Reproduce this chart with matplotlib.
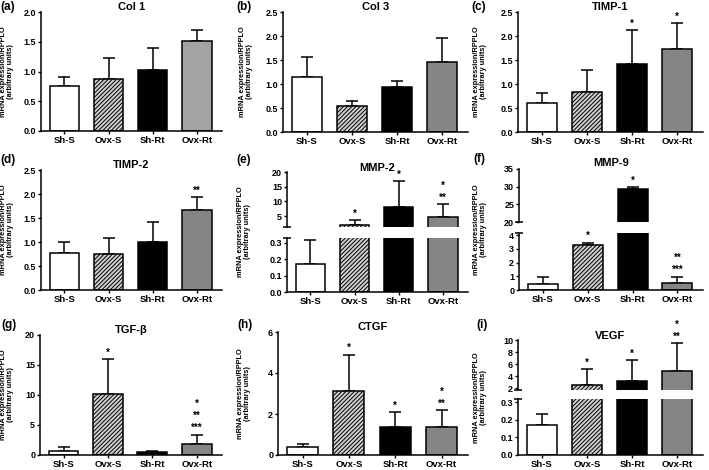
import numpy as np
import matplotlib
matplotlib.use('Agg')
import matplotlib.pyplot as plt

plt.rcParams['font.family'] = ['Liberation Sans', 'DejaVu Sans']
plt.rcParams['font.weight'] = 'bold'
plt.rcParams['hatch.linewidth'] = 0.7

# groups on the x axis
groups = ['Sh-S', 'Ovx-S', 'Sh-Rt', 'Ovx-Rt']

# means and upper SD for each panel
col1_mean = [0.75, 0.87, 1.03, 1.51]
col1_err = [0.15, 0.35, 0.36, 0.19]
col3_mean = [1.14, 0.55, 0.94, 1.46]
col3_err = [0.42, 0.09, 0.12, 0.49]
timp1_mean = [0.61, 0.83, 1.41, 1.72]
timp1_err = [0.21, 0.47, 0.72, 0.55]
timp2_mean = [0.78, 0.76, 1.01, 1.66]
timp2_err = [0.21, 0.33, 0.40, 0.27]
mmp2_mean = [0.17, 1.8, 8.0, 4.5]
mmp2_err = [0.15, 1.7, 8.8, 4.6]
mmp9_mean = [0.45, 3.25, 29.4, 0.5]
mmp9_err = [0.47, 0.2, 0.5, 0.47]
tgfb_mean = [0.7, 10.2, 0.5, 1.9]
tgfb_err = [0.6, 5.8, 0.2, 1.5]
ctgf_mean = [0.4, 3.1, 1.37, 1.35]
ctgf_err = [0.15, 1.8, 0.73, 0.85]
vegf_mean = [0.17, 2.5, 3.1, 4.8]
vegf_err = [0.06, 2.7, 3.5, 4.7]

# significance marks
timp1_sig = ['', '', '*', '*']
timp2_sig = ['', '', '', '**']
mmp2_sig = ['', '*', '*', '*\n**']
mmp9_sig = ['', '*', '*', '**\n***']
tgfb_sig = ['', '*', '', '*\n**\n***']
ctgf_sig = ['', '*', '*', '*\n**']
vegf_sig = ['', '*', '*', '*\n**']

W, H = 709, 470
fig = plt.figure(figsize=(W / 100, H / 100), dpi=100)

faces = ['white', '#d0d0d0', 'black', '#858585']
hatches = ['', '////////', '', '']
x = np.arange(len(groups))


def px_axes(l, t, r, b):
    return fig.add_axes([l / W, 1 - b / H, (r - l) / W, (b - t) / H])


def style(ax, bottom=True, top_cap=False, bottom_cap=False):
    ax.spines['top'].set_visible(False)
    ax.spines['right'].set_visible(False)
    ax.spines['left'].set_linewidth(1.1)
    ax.spines['bottom'].set_linewidth(1.1)
    ax.tick_params(direction='out', length=2.5, width=1, labelsize=6.5, pad=1)
    ax.set_xlim(-0.53, 3.57)
    if bottom:
        ax.set_xticks(x)
        ax.set_xticklabels(groups, fontsize=6.8, fontweight='bold')
    else:
        ax.spines['bottom'].set_visible(False)
        ax.set_xticks([])
    for lab in ax.get_yticklabels():
        lab.set_fontweight('bold')
    if top_cap:
        ax.plot([0], [1], marker='_', ms=6, mew=1.1, color='k',
                transform=ax.transAxes, clip_on=False)
    if bottom_cap:
        ax.plot([0], [0], marker='_', ms=6, mew=1.1, color='k',
                transform=ax.transAxes, clip_on=False)


def draw_bars(ax, mean, err, ovx_grey='#858585'):
    cols = faces[:3] + [ovx_grey]
    for i in range(len(groups)):
        ax.bar(x[i], mean[i], width=0.67, color=cols[i], edgecolor='black',
               linewidth=1.1, hatch=hatches[i], zorder=2)
    ax.errorbar(x, mean, yerr=[np.zeros(len(err)), err], fmt='none',
                ecolor='black', elinewidth=1.1, capsize=4.5, capthick=1.1, zorder=1)


def stars(ax, mean, err, sig, only=None):
    for i, s in enumerate(sig):
        if not s or (only is not None and i not in only):
            continue
        ax.annotate(s, xy=(x[i], mean[i] + err[i]), xytext=(0, 1),
                    textcoords='offset points', ha='center', va='bottom',
                    fontsize=7, fontweight='bold', linespacing=1.25,
                    annotation_clip=False)


def labels(l, t, r, b, title, tag, title_y, tag_xy, ylab_off=36):
    fig.text((l + r) / 2 / W, 1 - title_y / H, title, ha='center', va='center',
             fontsize=8, fontweight='bold')
    fig.text(tag_xy[0] / W, 1 - tag_xy[1] / H, tag, ha='left', va='center',
             fontsize=8.5, fontweight='bold')
    fig.text((l - ylab_off) / W, 1 - (t + b) / 2 / H,
             'mRNA expression/RPPLO\n(arbitrary units)', rotation=90,
             ha='center', va='center', fontsize=5.3, fontweight='bold',
             linespacing=1.1)


def simple_panel(box, mean, err, ylim, yticks, title, tag, title_y, tag_xy,
                 sig=None, ovx_grey='#858585', ylab_off=36, fmt='%.1f'):
    ax = px_axes(*box)
    draw_bars(ax, mean, err, ovx_grey)
    ax.set_ylim(*ylim)
    ax.set_yticks(yticks)
    ax.set_yticklabels([fmt % v for v in yticks])
    style(ax)
    if sig:
        stars(ax, mean, err, sig)
    labels(*box, title, tag, title_y, tag_xy, ylab_off)
    return ax


def broken_panel(l, r, up_tb, lo_tb, mean, err, up_lim, lo_lim, up_ticks,
                 lo_ticks, up_fmt, lo_fmt, title, tag, title_y, tag_xy, sig,
                 up_idx, lo_idx, ylab_off=36):
    axu = px_axes(l, up_tb[0], r, up_tb[1])
    axl = px_axes(l, lo_tb[0], r, lo_tb[1])
    for ax in (axu, axl):
        draw_bars(ax, mean, err)
    axu.set_ylim(*up_lim)
    axl.set_ylim(*lo_lim)
    axu.set_yticks(up_ticks)
    axu.set_yticklabels([up_fmt % v for v in up_ticks])
    axl.set_yticks(lo_ticks)
    axl.set_yticklabels([lo_fmt % v for v in lo_ticks])
    style(axu, bottom=False, bottom_cap=True)
    style(axl, top_cap=True)
    stars(axu, mean, err, sig, only=up_idx)
    stars(axl, mean, err, sig, only=lo_idx)
    labels(l, up_tb[0], r, lo_tb[1], title, tag, title_y, tag_xy, ylab_off)


# row 1
simple_panel((41, 12, 222, 131), col1_mean, col1_err, (0, 2.0),
             [0, 0.5, 1.0, 1.5, 2.0], 'Col 1', '(a)', 7, (0, 7),
             ovx_grey='#a3a3a3', ylab_off=34)
simple_panel((283, 12, 468, 132), col3_mean, col3_err, (0, 2.5),
             [0, 0.5, 1.0, 1.5, 2.0, 2.5], 'Col 3', '(b)', 7, (236, 7),
             ylab_off=37)
simple_panel((518, 12, 703, 132), timp1_mean, timp1_err, (0, 2.5),
             [0, 0.5, 1.0, 1.5, 2.0, 2.5], 'TIMP-1', '(c)', 7, (471, 7),
             sig=timp1_sig, ylab_off=38)

# row 2
simple_panel((41, 170, 222, 290), timp2_mean, timp2_err, (0, 2.5),
             [0, 0.5, 1.0, 1.5, 2.0, 2.5], 'TIMP-2', '(d)', 165, (0, 160),
             sig=timp2_sig, ylab_off=34)
broken_panel(287, 468, (172, 227), (238, 292), mmp2_mean, mmp2_err,
             (1.25, 20), (0, 0.33), [5, 10, 15, 20], [0, 0.1, 0.2, 0.3],
             '%d', '%.1f', 'MMP-2', '(e)', 168, (236, 160), mmp2_sig,
             up_idx=[1, 2, 3], lo_idx=[], ylab_off=43)
broken_panel(519, 703, (169, 222), (233, 290), mmp9_mean, mmp9_err,
             (20, 35), (0, 4.15), [20, 25, 30, 35], [0, 1, 2, 3, 4],
             '%d', '%d', 'MMP-9', '(f)', 163, (473, 159), mmp9_sig,
             up_idx=[2], lo_idx=[1, 3], ylab_off=39)

# row 3
simple_panel((40, 335, 222, 455), tgfb_mean, tgfb_err, (0, 20),
             [0, 5, 10, 15, 20], 'TGF-\u03b2', '(g)', 330, (1, 325),
             sig=tgfb_sig, ylab_off=33, fmt='%d')
simple_panel((278, 332, 468, 455), ctgf_mean, ctgf_err, (0, 6),
             [0, 2, 4, 6], 'CTGF', '(h)', 327, (237, 325),
             sig=ctgf_sig, ylab_off=34, fmt='%d')
broken_panel(518, 703, (340, 390), (399, 455), vegf_mean, vegf_err,
             (1.67, 10), (0, 0.317), [2, 4, 6, 8, 10], [0, 0.1, 0.2, 0.3],
             '%d', '%.1f', 'VEGF', '(i)', 336, (476, 325), vegf_sig,
             up_idx=[1, 2, 3], lo_idx=[], ylab_off=38)

fig.savefig('out.png', dpi=100)
